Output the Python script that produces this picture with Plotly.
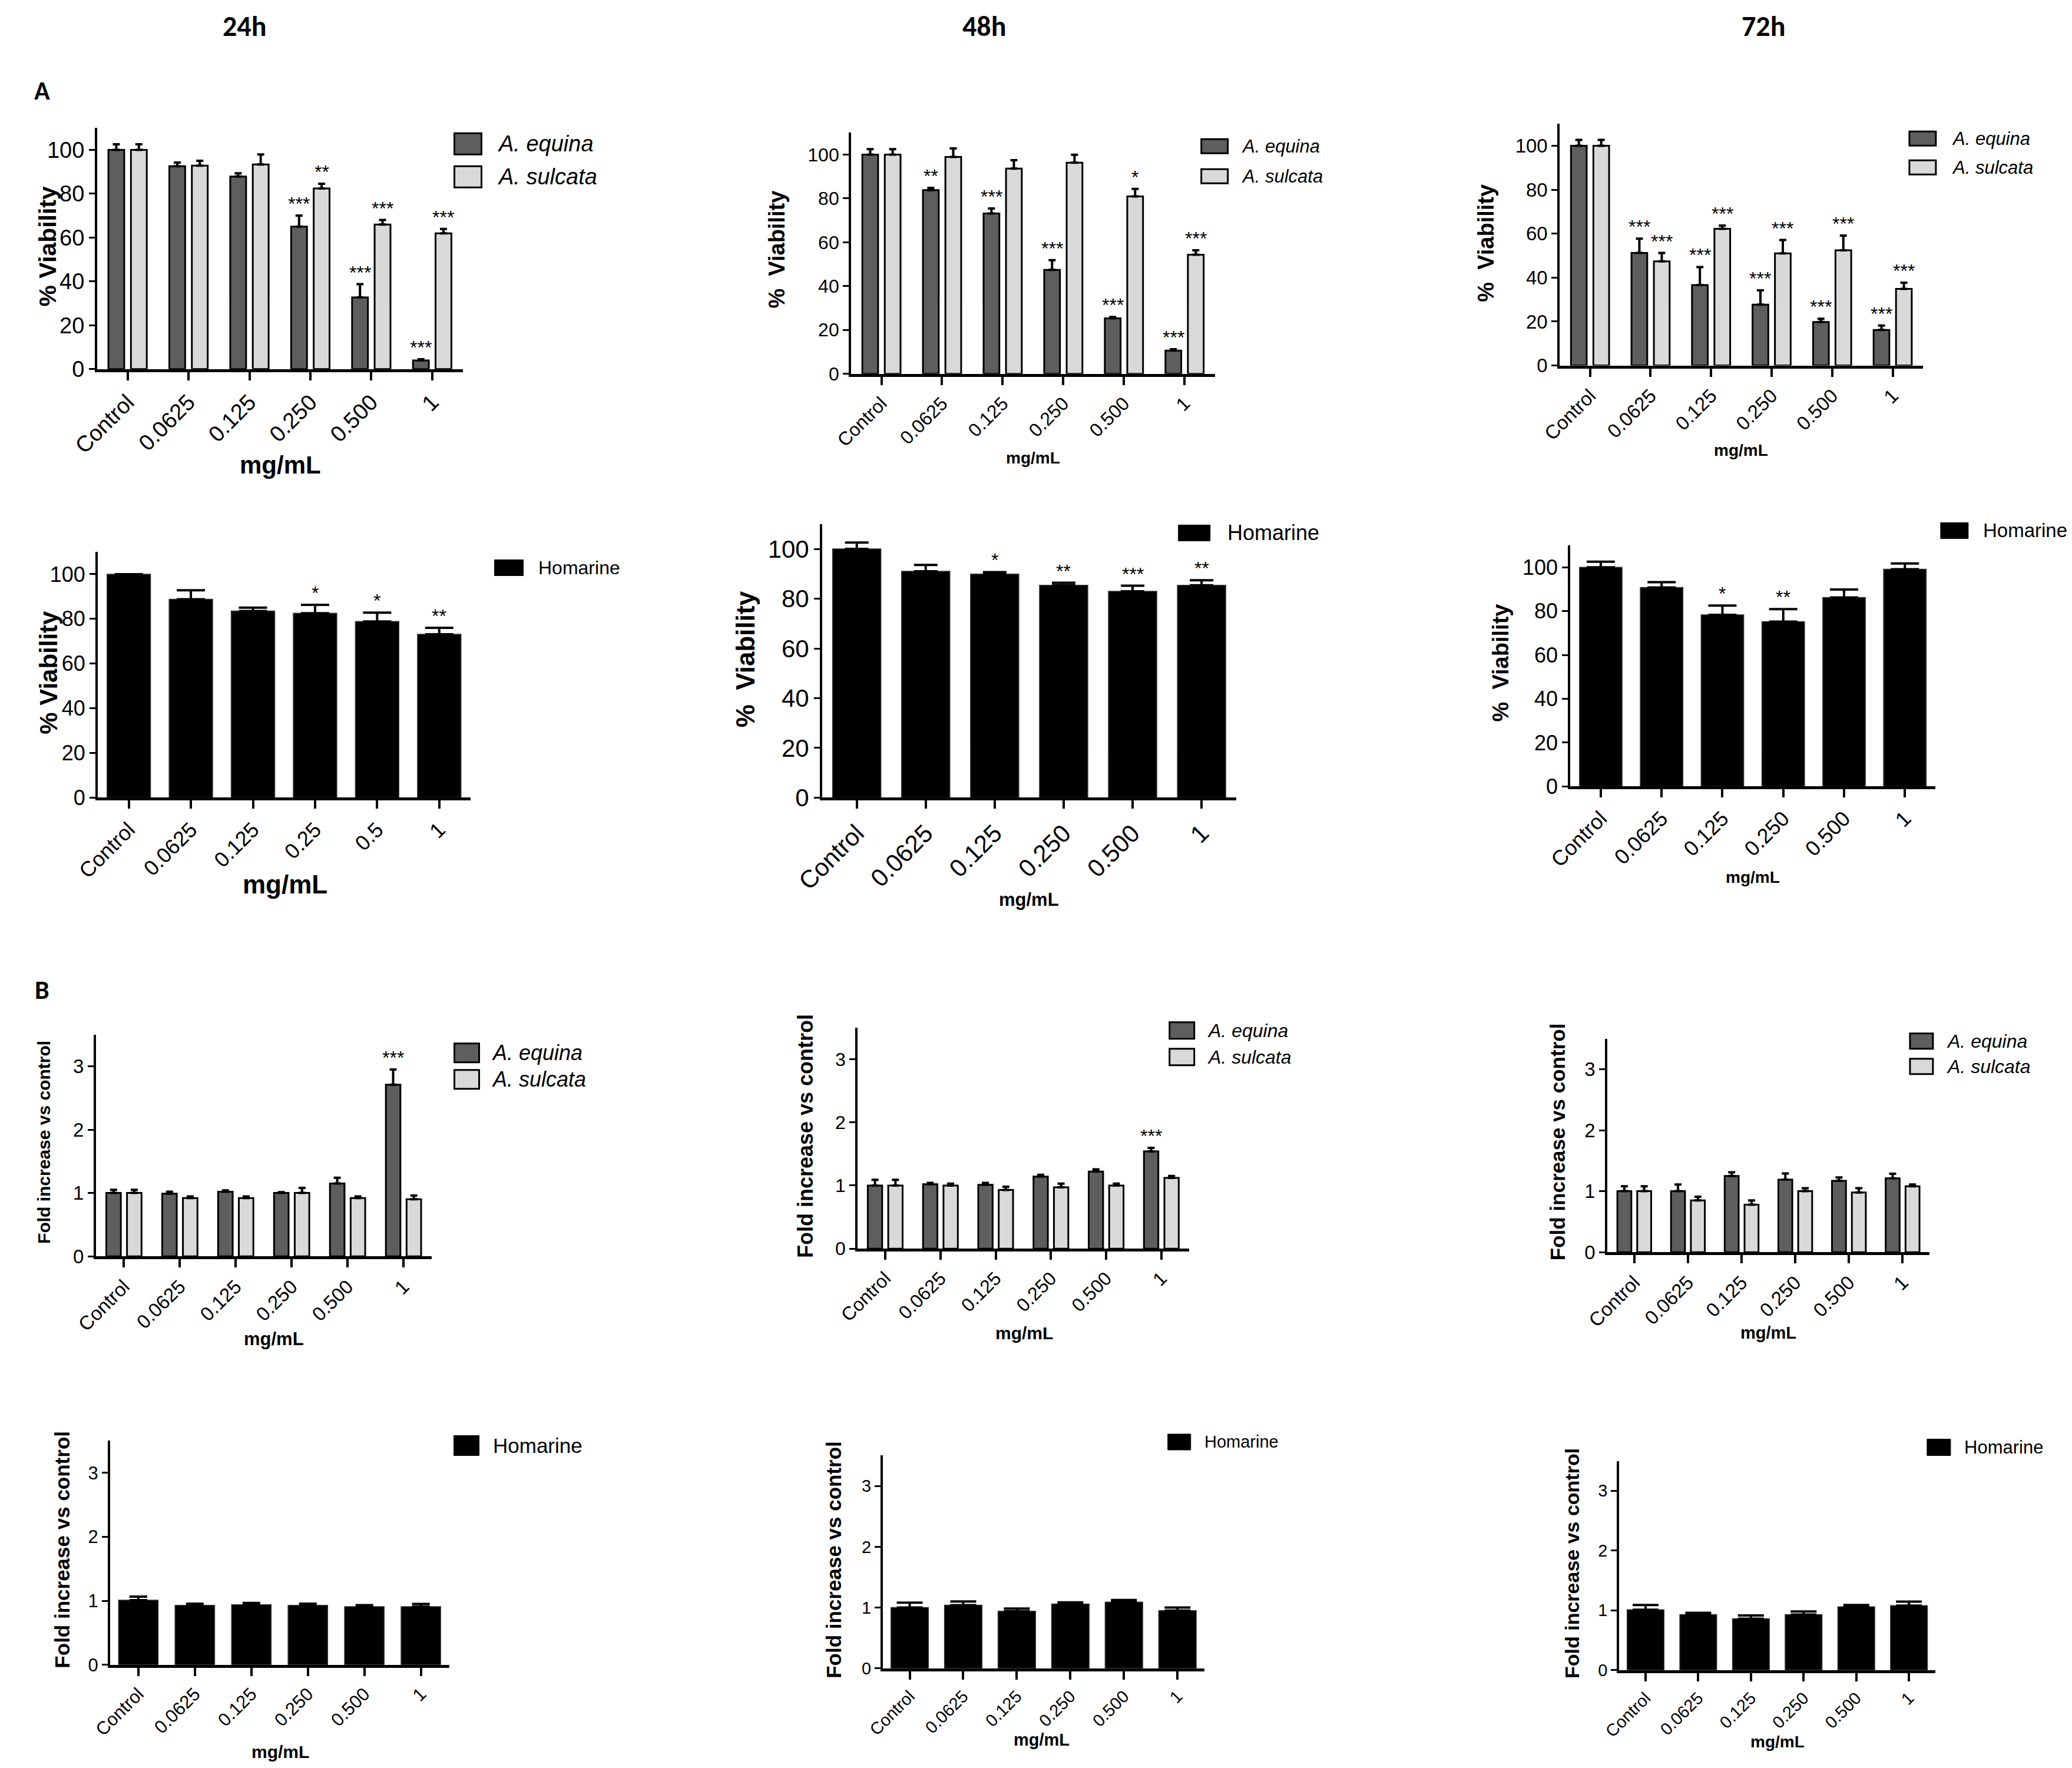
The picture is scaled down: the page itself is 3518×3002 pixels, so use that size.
import plotly.graph_objects as go

W, H = 3518, 3002
FONT = "Liberation Sans, Arial, Helvetica, sans-serif"
HEAD_FONT = "Carlito, Lato, Open Sans, sans-serif"

# ---------------- categories / tick labels ----------------
doses = ["Control", "0.0625", "0.125", "0.250", "0.500", "1"]
doses_short = ["Control", "0.0625", "0.125", "0.25", "0.5", "1"]
time_points = ["24h", "48h", "72h"]

# ---------------- A: % viability ----------------
equina_24h = [100, 92.5, 87.8, 65.0, 32.7, 3.9]
equina_24h_err = [2.5, 1.7, 1.5, 5.0, 6.0, 0.6]
equina_24h_sig = ["", "", "", "***", "***", "***"]
sulcata_24h = [100, 92.8, 93.3, 82.4, 65.9, 61.9]
sulcata_24h_err = [2.5, 2.2, 4.6, 2.1, 2.1, 2.0]
sulcata_24h_sig = ["", "", "", "**", "***", "***"]

equina_48h = [100, 83.8, 73.1, 47.4, 25.3, 10.6]
equina_48h_err = [2.5, 1.0, 2.3, 4.4, 0.6, 0.6]
equina_48h_sig = ["", "**", "***", "***", "***", "***"]
sulcata_48h = [100, 98.9, 93.6, 96.3, 80.9, 54.3]
sulcata_48h_err = [2.5, 3.9, 3.8, 3.6, 3.4, 2.0]
sulcata_48h_sig = ["", "", "", "", "*", "***"]

equina_72h = [100, 51.2, 36.6, 27.7, 19.8, 16.2]
equina_72h_err = [2.7, 6.5, 8.2, 6.5, 1.5, 2.0]
equina_72h_sig = ["", "***", "***", "***", "***", "***"]
sulcata_72h = [100, 47.4, 62.2, 51.0, 52.4, 34.9]
sulcata_72h_err = [2.7, 3.8, 1.5, 6.1, 6.7, 2.8]
sulcata_72h_sig = ["", "***", "***", "***", "***", "***"]

homarine_24h = [100, 88.8, 83.5, 82.5, 78.8, 73.1]
homarine_24h_err = [0, 4.0, 1.5, 3.8, 4.0, 2.9]
homarine_24h_sig = ["", "", "", "*", "*", "**"]
homarine_48h = [100, 91.0, 89.9, 85.4, 83.0, 85.4]
homarine_48h_err = [2.6, 2.6, 0.8, 1.0, 2.2, 2.0]
homarine_48h_sig = ["", "", "*", "**", "***", "**"]
homarine_72h = [100, 90.8, 78.3, 75.2, 86.2, 99.1]
homarine_72h_err = [2.5, 2.4, 4.2, 5.7, 3.6, 2.6]
homarine_72h_sig = ["", "", "*", "**", "", ""]

# ---------------- B: fold increase vs control ----------------
fold_equina_24h = [1.0, 0.99, 1.02, 1.0, 1.15, 2.71]
fold_equina_24h_err = [0.05, 0.03, 0.02, 0.012, 0.09, 0.24]
fold_equina_24h_sig = ["", "", "", "", "", "***"]
fold_sulcata_24h = [1.0, 0.92, 0.92, 1.0, 0.92, 0.9]
fold_sulcata_24h_err = [0.05, 0.025, 0.025, 0.08, 0.025, 0.06]
fold_sulcata_24h_sig = ["", "", "", "", "", ""]

fold_equina_48h = [1.0, 1.02, 1.01, 1.14, 1.22, 1.54]
fold_equina_48h_err = [0.09, 0.02, 0.03, 0.03, 0.035, 0.055]
fold_equina_48h_sig = ["", "", "", "", "", "***"]
fold_sulcata_48h = [1.0, 1.0, 0.93, 0.97, 1.0, 1.12]
fold_sulcata_48h_err = [0.09, 0.03, 0.05, 0.06, 0.03, 0.03]
fold_sulcata_48h_sig = ["", "", "", "", "", ""]

fold_equina_72h = [1.0, 1.0, 1.25, 1.19, 1.17, 1.21]
fold_equina_72h_err = [0.08, 0.11, 0.06, 0.1, 0.055, 0.075]
fold_equina_72h_sig = ["", "", "", "", "", ""]
fold_sulcata_72h = [1.0, 0.85, 0.78, 1.0, 0.98, 1.08]
fold_sulcata_72h_err = [0.08, 0.06, 0.07, 0.05, 0.07, 0.03]
fold_sulcata_72h_sig = ["", "", "", "", "", ""]

fold_homarine_24h = [1.01, 0.93, 0.94, 0.93, 0.91, 0.91]
fold_homarine_24h_err = [0.055, 0.025, 0.026, 0.025, 0.022, 0.04]
fold_homarine_48h = [1.0, 1.04, 0.94, 1.06, 1.09, 0.95]
fold_homarine_48h_err = [0.08, 0.06, 0.043, 0.027, 0.035, 0.05]
fold_homarine_72h = [1.01, 0.93, 0.86, 0.93, 1.06, 1.08]
fold_homarine_72h_err = [0.08, 0.03, 0.055, 0.05, 0.03, 0.067]
no_sig = ["", "", "", "", "", ""]

EQUINA_COLOR = "#5e5e5e"
SULCATA_COLOR = "#d9d9d9"
HOMARINE_COLOR = "#000000"

# series: (name, values, errors, stars, colour)
# box: (left, right, top, bottom) of the plot area in page pixels
# ytitle: (text, x, y, size) ; xtitle: (x, y, size) ; leg: (box_left, item_centres, w, h, text_x, size)
panels = [
    dict(series=[("A. equina", equina_24h, equina_24h_err, equina_24h_sig, EQUINA_COLOR),
                 ("A. sulcata", sulcata_24h, sulcata_24h_err, sulcata_24h_sig, SULCATA_COLOR)],
         cats=doses, box=(165, 786, 220, 629), ymax=110, dtick=20, tick=38, cap=6,
         ytitle=("% Viability", 47, 421, 41), xtitle=(476, 792, 42),
         leg=(772, [247, 303], 46, 36, 844, 38)),
    dict(series=[("A. equina", equina_48h, equina_48h_err, equina_48h_sig, EQUINA_COLOR),
                 ("A. sulcata", sulcata_48h, sulcata_48h_err, sulcata_48h_sig, SULCATA_COLOR)],
         cats=doses, box=(1446, 2064, 228, 637), ymax=110, dtick=20, tick=32, cap=6,
         ytitle=("%&nbsp; Viability", 1320, 426, 38), xtitle=(1755, 780, 28),
         leg=(2041, [251, 302], 45, 24, 2107, 31)),
    dict(series=[("A. equina", equina_72h, equina_72h_err, equina_72h_sig, EQUINA_COLOR),
                 ("A. sulcata", sulcata_72h, sulcata_72h_err, sulcata_72h_sig, SULCATA_COLOR)],
         cats=doses, box=(2650, 3267, 213, 623), ymax=110, dtick=20, tick=33, cap=6,
         ytitle=("%&nbsp; Viability", 2525, 415, 38), xtitle=(2958, 767, 28),
         leg=(3244, [238, 287], 45, 24, 3314, 31)),
    dict(series=[("Homarine", homarine_24h, homarine_24h_err, homarine_24h_sig, HOMARINE_COLOR)],
         cats=doses_short, box=(166, 799, 939, 1356), ymax=110, dtick=20, tick=36, cap=24,
         ytitle=("% Viability", 60, 1144, 42), xtitle=(484, 1503, 44),
         leg=(840, [966], 49, 27, 913, 32)),
    dict(series=[("Homarine", homarine_48h, homarine_48h_err, homarine_48h_sig, HOMARINE_COLOR)],
         cats=doses, box=(1397, 2100, 892, 1356), ymax=110, dtick=20, tick=42, cap=20,
         ytitle=("%&nbsp; Viability", 1266, 1121, 44), xtitle=(1748, 1529, 31),
         leg=(2002, [907], 54, 27, 2083, 36)),
    dict(series=[("Homarine", homarine_72h, homarine_72h_err, homarine_72h_sig, HOMARINE_COLOR)],
         cats=doses, box=(2668, 3288, 928, 1337), ymax=110, dtick=20, tick=36, cap=24,
         ytitle=("%&nbsp; Viability", 2550, 1127, 38), xtitle=(2978, 1491, 28),
         leg=(3297, [903], 47, 27, 3367, 33)),
    dict(series=[("A. equina", fold_equina_24h, fold_equina_24h_err, fold_equina_24h_sig, EQUINA_COLOR),
                 ("A. sulcata", fold_sulcata_24h, fold_sulcata_24h_err, fold_sulcata_24h_sig, SULCATA_COLOR)],
         cats=doses, box=(163, 733, 1758, 2134), ymax=3.5, dtick=1, tick=33, cap=6,
         ytitle=("Fold increase vs control", 75, 1940, 30), xtitle=(465, 2274, 31),
         leg=(772, [1789, 1834], 42, 32, 834, 36)),
    dict(series=[("A. equina", fold_equina_48h, fold_equina_48h_err, fold_equina_48h_sig, EQUINA_COLOR),
                 ("A. sulcata", fold_sulcata_48h, fold_sulcata_48h_err, fold_sulcata_48h_sig, SULCATA_COLOR)],
         cats=doses, box=(1457, 2020, 1746, 2121), ymax=3.5, dtick=1, tick=32, cap=6,
         ytitle=("Fold increase vs control", 1369, 1930, 36), xtitle=(1740, 2264, 30),
         leg=(1987, [1751, 1796], 42, 28, 2049, 32)),
    dict(series=[("A. equina", fold_equina_72h, fold_equina_72h_err, fold_equina_72h_sig, EQUINA_COLOR),
                 ("A. sulcata", fold_sulcata_72h, fold_sulcata_72h_err, fold_sulcata_72h_sig, SULCATA_COLOR)],
         cats=doses, box=(2731, 3278, 1765, 2127), ymax=3.5, dtick=1, tick=33, cap=6,
         ytitle=("Fold increase vs control", 2647, 1940, 35), xtitle=(3004, 2264, 29),
         leg=(3245, [1769, 1812], 39, 26, 3305, 32)),
    dict(series=[("Homarine", fold_homarine_24h, fold_homarine_24h_err, no_sig, HOMARINE_COLOR)],
         cats=doses, box=(187, 763, 2447, 2827), ymax=3.5, dtick=1, tick=31, cap=15,
         ytitle=("Fold increase vs control", 106, 2631, 35), xtitle=(476, 2974, 30),
         leg=(771, [2455], 43, 34, 836, 35)),
    dict(series=[("Homarine", fold_homarine_48h, fold_homarine_48h_err, no_sig, HOMARINE_COLOR)],
         cats=doses, box=(1500, 2046, 2472, 2833), ymax=3.5, dtick=1, tick=29, cap=22,
         ytitle=("Fold increase vs control", 1417, 2649, 35), xtitle=(1770, 2954, 29),
         leg=(1984, [2449], 39, 27, 2044, 29)),
    dict(series=[("Homarine", fold_homarine_72h, fold_homarine_72h_err, no_sig, HOMARINE_COLOR)],
         cats=doses, box=(2751, 3288, 2481, 2836), ymax=3.5, dtick=1, tick=29, cap=22,
         ytitle=("Fold increase vs control", 2670, 2655, 34), xtitle=(3020, 2958, 28),
         leg=(3274, [2458], 40, 28, 3335, 31)),
]

# the photographed page comes out shifted/shrunk a little, measured with guide lines
OX, OY, SX, SY = 56, 11, 0.987, 0.991


def px_x(px, pad=0):
    return max((px - OX) / SX, pad) / W


def px_y(py):
    return 1 - (py - OY) / SY / H


fig = go.Figure()
annotations = []
shapes = []

GROUP_WIDTH = 0.26
GROUP_OFFSETS = [-0.315, 0.055]
SINGLE_WIDTH = 0.7

for k, p in enumerate(panels, start=1):
    xref = "x" if k == 1 else f"x{k}"
    yref = "y" if k == 1 else f"y{k}"
    grouped = len(p["series"]) > 1

    for j, (name, vals, errs, sig, color) in enumerate(p["series"]):
        if grouped:
            width, offset = GROUP_WIDTH, GROUP_OFFSETS[j]
            centre = offset + width / 2
            line = dict(color="black", width=3)
        else:
            width, offset, centre = SINGLE_WIDTH, None, 0.0
            line = dict(color="#333333", width=1.5)
        fig.add_trace(go.Bar(
            x=p["cats"], y=vals, name=name, width=width, offset=offset,
            marker=dict(color=color, line=line),
            error_y=dict(type="data", symmetric=False, array=errs,
                         arrayminus=[0] * len(errs), color="black",
                         thickness=4, width=p["cap"]),
            xaxis=xref, yaxis=yref, showlegend=False,
        ))
        for i, (v, e, s) in enumerate(zip(vals, errs, sig)):
            if s:
                annotations.append(dict(
                    x=i + centre, y=v + e, xref=xref, yref=yref, text=s,
                    showarrow=False, yanchor="bottom", xanchor="center",
                    font=dict(family=FONT, size=32, color="black")))

    xl, xr, top, bottom = p["box"]
    axis_common = dict(showline=True, linecolor="black", showgrid=False,
                       zeroline=False, ticks="outside", tickcolor="black",
                       tickfont=dict(family=FONT, size=p["tick"], color="black"))
    fig.update_layout({
        ("xaxis" if k == 1 else f"xaxis{k}"): dict(
            domain=[px_x(xl), px_x(xr)], anchor=yref, type="category",
            range=[-0.5, 5.5], tickangle=-45, linewidth=5, ticklen=14,
            tickwidth=4, **axis_common),
        ("yaxis" if k == 1 else f"yaxis{k}"): dict(
            domain=[px_y(bottom), px_y(top)], anchor=xref, range=[0, p["ymax"]],
            dtick=p["dtick"], tick0=0, linewidth=4, ticklen=10, tickwidth=3,
            **axis_common),
    })

    text, tx, ty, size = p["ytitle"]
    annotations.append(dict(
        x=px_x(tx, pad=0.62 * size), y=px_y(ty), xref="paper", yref="paper",
        text=f"<b>{text}</b>", textangle=-90, showarrow=False,
        xanchor="center", yanchor="middle",
        font=dict(family=FONT, size=size, color="black")))
    mx, my, msize = p["xtitle"]
    annotations.append(dict(
        x=px_x(mx), y=px_y(my), xref="paper", yref="paper", text="<b>mg/mL</b>",
        showarrow=False, xanchor="center", yanchor="middle",
        font=dict(family=FONT, size=msize, color="black")))

    # legend swatches drawn by hand so they can be as large as in the figure
    bx, centres, bw, bh, text_x, lsize = p["leg"]
    for (name, _, _, _, color), cy in zip(p["series"], centres):
        shapes.append(dict(
            type="rect", xref="paper", yref="paper",
            x0=px_x(bx), x1=px_x(bx + bw), y0=px_y(cy + bh / 2), y1=px_y(cy - bh / 2),
            fillcolor=color, line=dict(color="black", width=3 if grouped else 1)))
        label = f"<i>{name}</i>" if name.startswith("A.") else name
        annotations.append(dict(
            x=px_x(text_x), y=px_y(cy), xref="paper", yref="paper", text=label,
            showarrow=False, xanchor="left", yanchor="middle",
            font=dict(family=FONT, size=lsize, color="black")))

# column headers and panel letters
for t, hx in zip(time_points, [415, 1672, 2996]):
    annotations.append(dict(
        x=px_x(hx), y=px_y(47), xref="paper", yref="paper", text=f"<b>{t}</b>",
        showarrow=False, xanchor="center", yanchor="middle",
        font=dict(family=HEAD_FONT, size=48, color="black")))
for letter, ly in [("A", 157), ("B", 1682)]:
    annotations.append(dict(
        x=px_x(34, pad=16), y=px_y(ly), xref="paper", yref="paper",
        text=f"<b>{letter}</b>", showarrow=False, xanchor="center", yanchor="middle",
        font=dict(family=HEAD_FONT, size=44, color="black")))

fig.update_layout(
    width=W, height=H, margin=dict(l=0, r=0, t=0, b=0),
    paper_bgcolor="white", plot_bgcolor="white",
    barmode="overlay", showlegend=False,
    annotations=annotations, shapes=shapes,
)

fig.write_html("out.html", config={"displayModeBar": False})
